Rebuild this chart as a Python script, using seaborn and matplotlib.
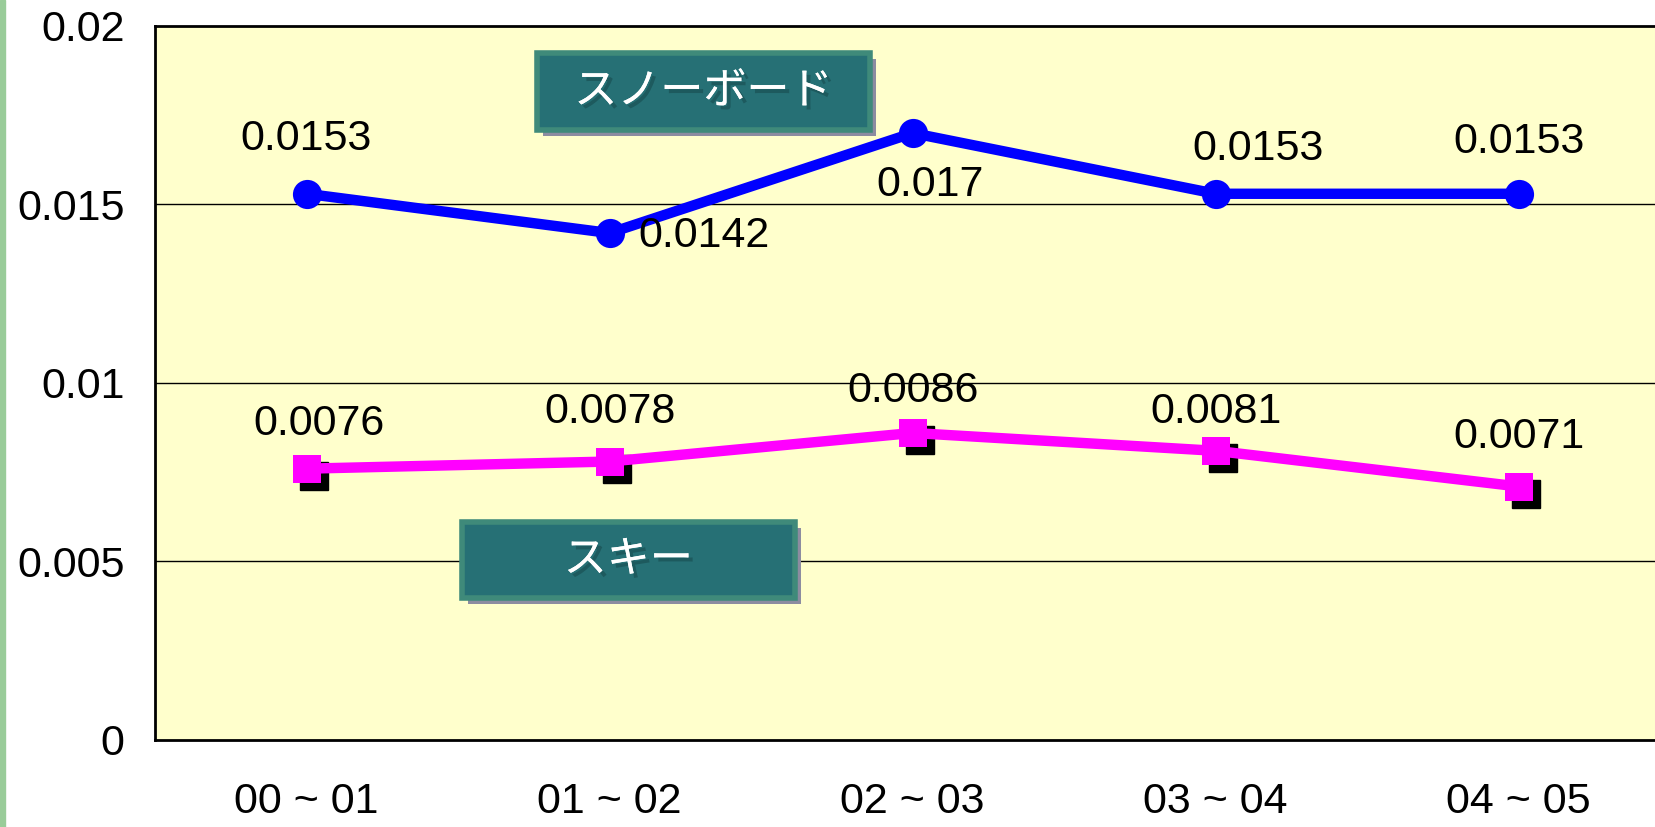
import matplotlib
matplotlib.use("Agg")
import matplotlib.pyplot as plt
import matplotlib.patheffects as pe
from matplotlib.patches import Rectangle
from matplotlib.transforms import offset_copy
import seaborn as sns
import pandas as pd

# データ
seasons = ['00 ~ 01', '01 ~ 02', '02 ~ 03', '03 ~ 04', '04 ~ 05']
snowboard = [0.0153, 0.0142, 0.017, 0.0153, 0.0153]
ski = [0.0076, 0.0078, 0.0086, 0.0081, 0.0071]
y_ticks = [0, 0.005, 0.01, 0.015, 0.02]
y_tick_labels = ['0', '0.005', '0.01', '0.015', '0.02']

# ラベル位置 (ピクセルオフセット)
snow_offsets = [(0, 55), (94, -3), (17, -52), (42, 45), (0, 52)]
ski_offsets = [(12, 45), (0, 50), (0, 42), (0, 39), (0, 50)]

sns.set_style('white')
plt.rcParams['font.family'] = ['Liberation Sans', 'DejaVu Sans']
plt.rcParams['text.color'] = 'black'
plt.rcParams['xtick.color'] = 'black'
plt.rcParams['ytick.color'] = 'black'

idx = list(range(len(seasons)))
df = pd.DataFrame({'idx': idx * 2,
                   'value': snowboard + ski,
                   'kind': ['snow'] * 5 + ['ski'] * 5})

fig = plt.figure(figsize=(16.56, 8.27), dpi=100)
ax = fig.add_axes([0.0936, 0.1052, 0.915, 0.8634])
ax.set_facecolor('#FFFFCC')

# 左端の緑の帯
fig.patches.append(Rectangle((0, 0), 5 / 1656, 1, transform=fig.transFigure,
                             color='#99CC99', zorder=0))

for y in y_ticks[1:-1]:
    ax.axhline(y, color='black', lw=1, zorder=1)

# スキーの影
shadow = offset_copy(ax.transData, fig=fig, x=7, y=-7, units='dots')
ax.plot(idx, ski, ls='none', marker='s', ms=20, color='black',
        transform=shadow, zorder=2)

sns.lineplot(data=df[df.kind == 'ski'], x='idx', y='value', ax=ax,
             color='#FF00FF', lw=7.5, marker='s', markersize=20,
             markeredgewidth=0, zorder=3)
sns.lineplot(data=df[df.kind == 'snow'], x='idx', y='value', ax=ax,
             color='#0000FF', lw=7.5, marker='o', markersize=21,
             markeredgewidth=0, zorder=3)

for i, v in enumerate(snowboard):
    ax.annotate(f'{v:g}', (i, v), xytext=snow_offsets[i],
                textcoords='offset pixels', ha='center', va='center',
                fontsize=31, color='black', zorder=5)
for i, v in enumerate(ski):
    ax.annotate(f'{v:g}', (i, v), xytext=ski_offsets[i],
                textcoords='offset pixels', ha='center', va='center',
                fontsize=31, color='black', zorder=5)

# 系列名のボックス
def label_box(x0, x1, y0, y1, text):
    w, h = x1 - x0, y1 - y0
    sh = offset_copy(ax.transData, fig=fig, x=6, y=-6, units='dots')
    ax.add_patch(Rectangle((x0, y0), w, h, transform=sh,
                           facecolor='#8C8CA0', edgecolor='none', zorder=6))
    ax.add_patch(Rectangle((x0, y0), w, h, facecolor='#267075',
                           edgecolor='#3F8A7A', lw=4, zorder=7))
    ax.text((x0 + x1) / 2, (y0 + y1) / 2, text, ha='center', va='center',
            color='white', fontsize=31, family=['Noto Sans CJK JP', 'DejaVu Sans'],
            zorder=8,
            path_effects=[pe.withSimplePatchShadow(offset=(3, -3),
                                                   shadow_rgbFace='#1D5A5E',
                                                   alpha=1),
                          pe.Normal()])

label_box(0.76, 1.858, 0.01709, 0.01924, 'スノーボード')
label_box(0.512, 1.611, 0.00398, 0.00611, 'スキー')

ax.set_xlim(-0.5, 4.5)
ax.set_ylim(0, 0.02)
ax.set_yticks(y_ticks)
ax.set_yticklabels(y_tick_labels)
ax.set_xticks(idx)
ax.set_xticklabels(seasons)
ax.set_xticks([0.5, 1.5, 2.5, 3.5], minor=True)
ax.tick_params(axis='x', which='major', length=0, pad=30, labelsize=31)
ax.tick_params(axis='x', which='minor', direction='in', length=12,
               width=1, color='black')
ax.tick_params(axis='y', length=0, pad=22, labelsize=31)
ax.set_xlabel('')
ax.set_ylabel('')
for s in ['left', 'bottom', 'top']:
    ax.spines[s].set_color('black')
    ax.spines[s].set_linewidth(2)
ax.spines['right'].set_visible(False)

fig.savefig('out.png', dpi=100)
